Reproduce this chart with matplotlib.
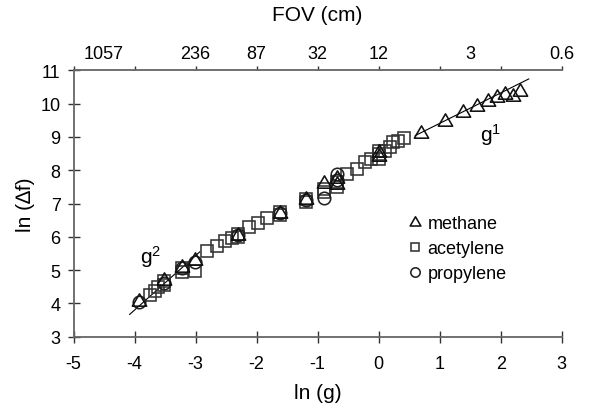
import numpy as np
import matplotlib
matplotlib.use("Agg")
import matplotlib.pyplot as plt
from matplotlib.path import Path

plt.rcParams['font.family'] = ['Liberation Sans', 'DejaVu Sans']
plt.rcParams['mathtext.fontset'] = 'custom'
plt.rcParams['mathtext.rm'] = 'Liberation Sans'
plt.rcParams['axes.unicode_minus'] = False

# methane (triangles)
methane_x = [-3.93, -3.51, -3.22, -3.01, -2.30, -1.61, -1.19, -0.90, -0.69, -0.69,
             0.01, 0.01, 0.69, 1.09, 1.39, 1.61, 1.80, 1.94, 2.07, 2.21, 2.32]
methane_y = [4.08, 4.70, 5.08, 5.30, 6.05, 6.72, 7.14, 7.62, 7.60, 7.78,
             8.42, 8.55, 9.12, 9.49, 9.76, 9.92, 10.07, 10.19, 10.29, 10.24, 10.39]

# acetylene (squares)
acetylene_x = [-3.75, -3.66, -3.61, -3.51, -3.51, -3.22, -3.22, -3.01, -2.82, -2.65,
               -2.52, -2.41, -2.30, -2.30, -2.13, -1.98, -1.83, -1.61, -1.61, -1.19,
               -1.19, -0.90, -0.90, -0.69, -0.69, -0.52, -0.36, -0.22, -0.12, 0.01,
               0.01, 0.01, 0.11, 0.19, 0.24, 0.32, 0.42]
acetylene_y = [4.25, 4.38, 4.48, 4.55, 4.68, 4.93, 5.05, 4.98, 5.58, 5.73,
               5.88, 5.95, 6.00, 6.08, 6.28, 6.40, 6.57, 6.65, 6.75, 7.05,
               7.15, 7.34, 7.44, 7.49, 7.64, 7.89, 8.04, 8.24, 8.34, 8.35,
               8.50, 8.59, 8.59, 8.69, 8.84, 8.89, 8.96]

# propylene (circles)
propylene_x = [-3.93, -3.51, -3.22, -3.01, -2.30, -1.61, -1.19, -0.90, -0.69, -0.69]
propylene_y = [4.05, 4.60, 5.05, 5.25, 6.05, 6.70, 7.10, 7.16, 7.90, 7.72]

# fitted lines for the two regimes
g2_x = [-4.08, -2.93]
g2_y = [3.67, 5.55]
g1_x = [0.60, 2.46]
g1_y = [9.04, 10.74]

# top axis: field of view in cm
fov_pos = [-4.5, -3, -2, -1, 0, 1.5, 3]
fov_labels = ['1057', '236', '87', '32', '12', '3', '0.6']

# equilateral triangle marker
tri = Path([(0, 0.62), (-0.58, -0.38), (0.58, -0.38), (0, 0.62)],
           [Path.MOVETO, Path.LINETO, Path.LINETO, Path.CLOSEPOLY])

fig = plt.figure(figsize=(5.92, 4.10), dpi=100)
ax = fig.add_axes([0.1242, 0.1763, 0.8246, 0.6498])

spine_col = '#666666'
mk = dict(linestyle='none', markerfacecolor='none', markeredgewidth=1.15)

ax.plot(g2_x, g2_y, color='black', lw=0.8, zorder=1)
ax.plot(g1_x, g1_y, color='black', lw=0.8, zorder=1)

ax.plot(acetylene_x, acetylene_y, marker='s', ms=8, markeredgecolor='#333333', label='acetylene', **mk)
ax.plot(propylene_x, propylene_y, marker='o', ms=9, markeredgecolor='#222222', label='propylene', **mk)
ax.plot(methane_x, methane_y, marker=tri, ms=11, markeredgecolor='#111111', label='methane', **mk)

ax.set_xlim(-5, 3)
ax.set_ylim(3, 11)
ax.set_xticks(np.arange(-5, 4, 1))
ax.set_yticks(np.arange(3, 12, 1))
ax.tick_params(direction='inout', length=8.5, width=1.0, color='#333333',
               labelsize=13)
ax.tick_params(axis='y', pad=5)
ax.tick_params(axis='x', pad=9)

for side in ['left', 'bottom']:
    ax.spines[side].set_color(spine_col)
    ax.spines[side].set_linewidth(1.3)
ax.spines['right'].set_visible(False)
ax.spines['top'].set_visible(False)

ax.set_xlabel('ln (g)', fontsize=15, labelpad=8)
ax.set_ylabel('ln (\u2206f)', fontsize=15, labelpad=4)

# top axis: tick marks at integers, FOV labels at their own positions
ax2 = ax.twiny()
ax2.set_xlim(ax.get_xlim())
ax2.xaxis.remove_overlapping_locs = False
ax2.set_xticks(np.arange(-5, 4, 1))
ax2.set_xticklabels([])
ax2.set_xticks(fov_pos, minor=True)
ax2.set_xticklabels(fov_labels, minor=True)
ax2.tick_params(which='major', direction='out', length=3, width=1.0, color='#333333')
ax2.tick_params(which='minor', length=0, labelsize=13, pad=6)
ax2.spines['top'].set_color(spine_col)
ax2.spines['top'].set_linewidth(1.3)
for side in ['left', 'right', 'bottom']:
    ax2.spines[side].set_visible(False)
ax2.set_xlabel('FOV (cm)', fontsize=15, labelpad=18)

ax.text(-3.74, 5.43, r'$\mathregular{g^2}$', fontsize=15, ha='center', va='center')
ax.text(1.83, 9.09, r'$\mathregular{g^1}$', fontsize=15, ha='center', va='center')

handles, labels = ax.get_legend_handles_labels()
order = [2, 0, 1]
leg = ax.legend([handles[i] for i in order], [labels[i] for i in order],
                loc='upper left', bbox_to_anchor=(0.67, 0.49), frameon=False,
                fontsize=13, handlelength=0.6, handletextpad=0.4,
                labelspacing=0.45, markerscale=0.75, borderpad=0)

fig.savefig('out.png', dpi=100)
